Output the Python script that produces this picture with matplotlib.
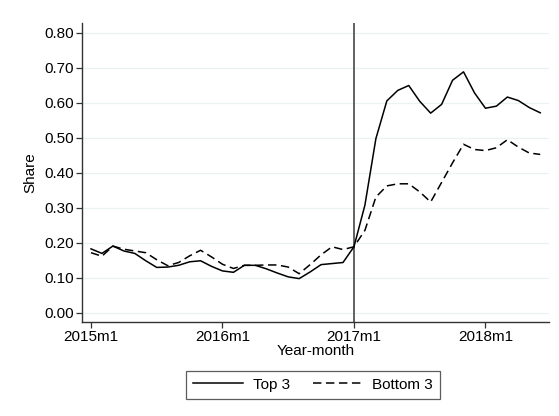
import matplotlib
matplotlib.use("Agg")
import matplotlib.pyplot as plt
from matplotlib.ticker import FormatStrFormatter

plt.rcParams['font.family'] = ['Liberation Sans', 'DejaVu Sans']

# Monthly periods 2015m1 .. 2018m6
years = [2015, 2016, 2017, 2018]
month_labels = [f"{y}m{m}" for y in years for m in range(1, 13)][:42]

top3 = [0.182, 0.169, 0.190, 0.176, 0.169, 0.148, 0.129, 0.130, 0.135, 0.145,
        0.148, 0.132, 0.119, 0.115, 0.135, 0.135, 0.125, 0.113, 0.102, 0.097,
        0.116, 0.137, 0.140, 0.143, 0.188, 0.307, 0.497, 0.605, 0.635, 0.649,
        0.604, 0.570, 0.595, 0.664, 0.688, 0.628, 0.584, 0.590, 0.616, 0.606,
        0.586, 0.571]

bottom3 = [0.171, 0.161, 0.190, 0.181, 0.176, 0.171, 0.151, 0.134, 0.143, 0.162,
           0.178, 0.159, 0.138, 0.126, 0.135, 0.135, 0.136, 0.136, 0.130, 0.111,
           0.137, 0.165, 0.188, 0.180, 0.188, 0.235, 0.330, 0.362, 0.368, 0.368,
           0.345, 0.316, 0.372, 0.428, 0.481, 0.466, 0.463, 0.471, 0.494, 0.473,
           0.456, 0.452]

tick_labels = ["2015m1", "2016m1", "2017m1", "2018m1"]
policy_month = "2017m1"
y_ticks = [0.0, 0.1, 0.2, 0.3, 0.4, 0.5, 0.6, 0.7, 0.8]

x = list(range(len(month_labels)))
tick_pos = [month_labels.index(t) for t in tick_labels]

fig = plt.figure(figsize=(5.59, 4.16), dpi=100)
ax = fig.add_axes([0.1467, 0.226, 0.9821 - 0.1467, 0.945 - 0.226])

grid_color = "#eaf2f3"
for yt in y_ticks:
    ax.axhline(yt, color=grid_color, lw=0.9, zorder=0)

ax.axvline(month_labels.index(policy_month), color="#555555", lw=1.3, zorder=1)

ax.plot(x, top3, color="black", lw=1.1, label="Top 3", zorder=3)
ax.plot(x, bottom3, color="black", lw=1.1, ls=(0, (5.5, 3)), label="Bottom 3", zorder=3)

ax.set_xlim(-0.82, 41.8)
ax.set_ylim(-0.027, 0.828)
ax.set_xticks(tick_pos)
ax.set_xticklabels(tick_labels)
ax.set_yticks(y_ticks)
ax.yaxis.set_major_formatter(FormatStrFormatter("%.2f"))

for side in ("top", "right"):
    ax.spines[side].set_visible(False)
for side in ("left", "bottom"):
    ax.spines[side].set_color("#333333")
    ax.spines[side].set_linewidth(1.0)

ax.tick_params(axis="both", direction="out", length=4, width=0.9,
               color="#333333", labelsize=11, pad=2)

ax.set_xlabel("Year-month", fontsize=11, labelpad=0)
ax.set_ylabel("Share", fontsize=11, labelpad=5)

leg = fig.legend(loc="center", bbox_to_anchor=(0.56, 0.075), ncol=2,
                 fontsize=11, frameon=True, fancybox=False,
                 handlelength=3.3, columnspacing=1.5, handletextpad=0.6,
                 borderpad=0.45)
leg.get_frame().set_edgecolor("#333333")
leg.get_frame().set_linewidth(0.9)

fig.savefig("out.png", dpi=100, facecolor="white")
